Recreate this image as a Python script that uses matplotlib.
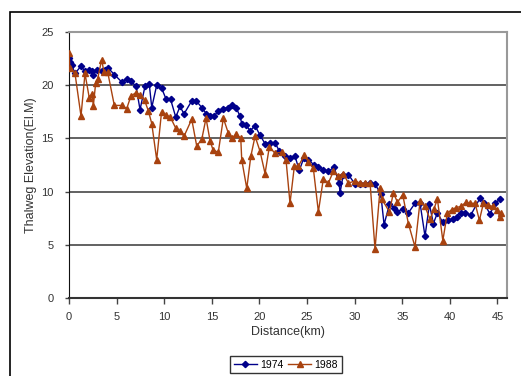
import matplotlib
matplotlib.use("Agg")
import matplotlib.pyplot as plt
from matplotlib.patches import Rectangle

plt.rcParams['font.family'] = ['Liberation Sans', 'DejaVu Sans']

# ---- data (km, elevation)
dist_1974 = [0.0, 0.1, 0.28, 0.63, 1.26, 1.68, 2.13, 2.45, 2.55, 2.91, 3.43, 3.78, 4.13, 4.76,
             5.54, 6.06, 6.51, 7.04, 7.46, 7.98, 8.43, 8.69, 9.21, 9.74, 10.19, 10.66, 11.21,
             11.66, 12.08, 12.87, 13.39, 13.94, 14.44, 14.81, 15.26, 15.68, 16.21, 16.67, 17.15,
             17.54, 17.96, 18.14, 18.59, 19.01, 19.54, 20.06, 20.59, 21.11, 21.64, 22.09, 22.69,
             23.21, 23.74, 24.19, 24.68, 25.14, 25.74, 26.19, 26.71, 27.24, 27.84, 28.36, 28.47,
             28.81, 29.34, 30.04, 30.57, 31.09, 31.62, 32.14, 32.74, 33.09, 33.65, 34.14, 34.49,
             35.05, 35.64, 36.34, 36.87, 37.39, 37.85, 38.27, 38.69, 39.26, 39.84, 40.3, 40.73,
             41.14, 41.6, 42.2, 43.17, 43.59, 44.22, 44.75, 45.27]
elev_1974 = [22.6, 22.2, 21.9, 21.1, 21.8, 21.3, 21.4, 21.3, 21.0, 21.4, 21.3, 21.4, 21.6, 21.0,
             20.3, 20.6, 20.4, 19.9, 17.7, 19.9, 20.1, 17.9, 20.0, 19.7, 18.7, 18.7, 17.0,
             18.0, 17.3, 18.5, 18.5, 17.9, 17.3, 17.1, 17.1, 17.6, 17.8, 17.9, 18.1,
             17.9, 17.1, 16.4, 16.3, 15.7, 16.2, 15.3, 14.5, 14.6, 14.6, 13.8, 13.3,
             13.2, 13.3, 12.0, 13.2, 13.0, 12.5, 12.3, 12.0, 11.9, 12.3, 10.8, 9.9,
             11.6, 11.6, 10.7, 10.7, 10.7, 10.8, 10.7, 9.8, 6.9, 8.8, 8.5, 8.1,
             8.4, 8.0, 8.9, 8.9, 5.8, 8.8, 7.0, 8.0, 7.1, 7.3, 7.4, 7.6,
             8.0, 8.0, 7.8, 9.4, 8.9, 7.9, 8.9, 9.3]

dist_1988 = [0.0, 0.1, 0.63, 1.26, 1.68, 2.13, 2.45, 2.55, 2.80, 3.01, 3.43, 3.68, 4.07, 4.76,
             5.54, 6.06, 6.51, 7.04, 7.46, 7.93, 8.33, 8.69, 9.21, 9.72, 10.19, 10.64, 11.19,
             11.63, 12.08, 12.89, 13.41, 13.94, 14.39, 14.81, 15.13, 15.68, 16.21, 16.73, 17.15,
             17.54, 18.04, 18.14, 18.67, 19.09, 19.54, 20.06, 20.59, 21.04, 21.64, 22.34, 22.79,
             23.21, 23.67, 24.09, 24.72, 25.14, 25.66, 26.19, 26.71, 27.24, 27.76, 28.29, 28.81,
             29.34, 30.04, 30.57, 31.09, 31.62, 32.14, 32.67, 32.85, 33.65, 34.07, 34.49, 35.05,
             35.64, 36.34, 36.87, 37.39, 37.92, 38.34, 38.69, 39.26, 39.74, 40.2, 40.65, 41.14,
             41.7, 42.12, 42.65, 43.1, 43.52, 44.04, 44.57, 44.99, 45.27, 45.35]
elev_1988 = [23.0, 21.6, 21.1, 17.1, 21.1, 18.8, 19.2, 18.0, 20.2, 20.6, 22.4, 21.2, 21.2, 18.1,
             18.1, 17.8, 19.0, 19.3, 19.1, 18.6, 17.6, 16.4, 13.0, 17.5, 17.2, 17.0, 16.0,
             15.7, 15.2, 16.8, 14.3, 14.9, 16.9, 14.8, 13.9, 13.7, 16.9, 15.5, 15.0,
             15.4, 15.0, 13.0, 10.3, 13.3, 15.2, 13.8, 11.7, 14.2, 13.6, 13.7, 13.0,
             8.9, 12.4, 12.4, 13.4, 12.8, 12.2, 8.1, 11.2, 10.8, 11.9, 11.5, 11.7,
             10.8, 11.0, 10.8, 10.8, 10.8, 4.6, 10.3, 9.3, 8.1, 9.9, 9.0, 9.7,
             7.0, 4.8, 9.1, 8.6, 7.4, 8.4, 9.3, 5.4, 8.0, 8.3, 8.5, 8.6,
             9.0, 8.9, 8.9, 7.3, 8.9, 8.7, 8.6, 8.3, 7.6, 8.0]

x_ticks = [0, 5, 10, 15, 20, 25, 30, 35, 40, 45]
y_ticks = [0, 5, 10, 15, 20, 25]

W, H = 521, 376
fig = plt.figure(figsize=(W / 100, H / 100), dpi=100)
ax = fig.add_axes([69 / W, 1 - 298 / H, (507 - 69) / W, (298 - 32) / H])

# ---- series
ax.plot(dist_1974, elev_1974, color='#00008B', lw=1.0, marker='D', ms=3.2,
        label='1974', zorder=3)
ax.plot(dist_1988, elev_1988, color='#A8420F', lw=1.0, marker='^', ms=4.5,
        label='1988', zorder=4)

ax.set_xlim(0, 46)
ax.set_ylim(0, 25)
ax.set_xticks(x_ticks)
ax.set_yticks(y_ticks)

# gridlines like excel
for y in y_ticks[1:-1]:
    ax.axhline(y, color='#555555', lw=1.3, zorder=1)

for s in ['top', 'right']:
    ax.spines[s].set_color('#999999')
    ax.spines[s].set_linewidth(1.5)
ax.spines['left'].set_color('#111111')
ax.spines['bottom'].set_color('#333333')
ax.spines['bottom'].set_linewidth(1.5)

ax.tick_params(axis='x', direction='out', length=4, width=1, pad=6,
               labelsize=8, labelcolor='#333333', color='#444444')
ax.tick_params(axis='y', direction='out', length=3, width=1, pad=8,
               labelsize=8, labelcolor='#333333', color='#444444')

ax.set_xlabel('Distance(km)', fontsize=9, color='#333333', labelpad=3)
ax.set_ylabel('Thalweg Elevation(El.M)', fontsize=9, color='#333333', labelpad=3)

leg = ax.legend(loc='upper center', bbox_to_anchor=(286 / W, 1 - 356 / H),
                bbox_transform=fig.transFigure, ncol=2, fontsize=7.5,
                frameon=True, fancybox=False, edgecolor='black',
                handlelength=2.2, columnspacing=0.5, handletextpad=0.3,
                borderpad=0.35, borderaxespad=0)
leg.get_frame().set_linewidth(1.0)

# outer chart border (cut by image edges)
fig.patches.append(Rectangle((10 / W, -0.2), 1.2, 1.2 - 12 / H + 0.0,
                             transform=fig.transFigure, fill=False,
                             edgecolor='black', lw=1.2))

fig.savefig('out.png', dpi=100)
